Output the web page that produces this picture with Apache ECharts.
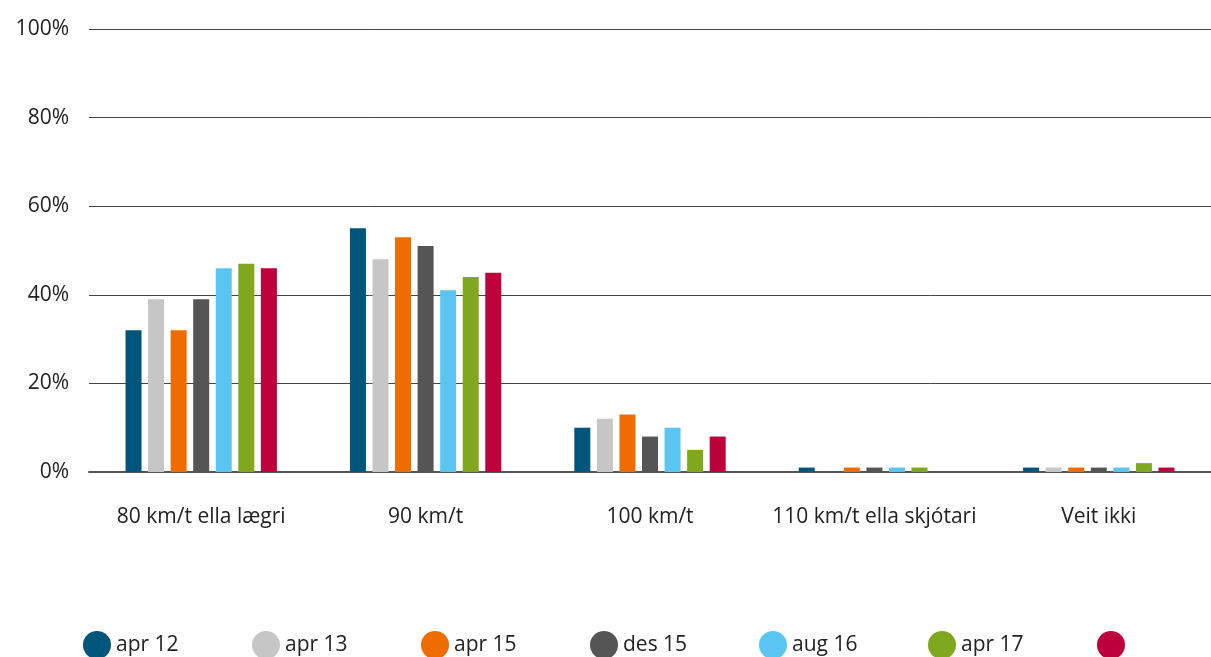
<!DOCTYPE html>
<html>
<head>
<meta charset="utf-8">
<script src="https://cdn.jsdelivr.net/npm/echarts@6/dist/echarts.min.js"></script>
<style>
  html, body { margin: 0; padding: 0; background: #fff; }
  #chart { width: 1211px; height: 657px; }
</style>
</head>
<body>
<div id="chart"></div>
<script>
// categories on the x axis
const categories = ['80 km/t ella lægri', '90 km/t', '100 km/t', '110 km/t ella skjótari', 'Veit ikki']
// survey rounds (last one has no label in the legend)
const rounds = ['apr 12', 'apr 13', 'apr 15', 'des 15', 'aug 16', 'apr 17', ' ']
const colors = ['#00567a', '#c6c6c6', '#ef6c00', '#555555', '#5bc5f2', '#7fa81e', '#be003c']

// share per round, in percent, one array per category order
const apr12 = [32, 55, 10, 1, 1]
const apr13 = [39, 48, 12, 0, 1]
const apr15 = [32, 53, 13, 1, 1]
const des15 = [39, 51, 8, 1, 1]
const aug16 = [46, 41, 10, 1, 1]
const apr17 = [47, 44, 5, 1, 2]
const last = [46, 45, 8, 0, 1]
const values = [apr12, apr13, apr15, des15, aug16, apr17, last]

const yTicks = [0, 20, 40, 60, 80, 100]

const font = 'Open Sans'

// one legend per round so the items sit at an even spacing
const legends = rounds.map((name, i) => ({
  left: 78 + 169 * i,
  top: 626,
  icon: 'circle',
  itemWidth: 28,
  itemHeight: 28,
  itemGap: 0,
  data: [name],
  textStyle: { fontSize: 21, color: '#222', fontFamily: font },
}))

const chart = echarts.init(document.getElementById('chart'))
chart.setOption({
  animation: false,
  textStyle: { fontFamily: font, color: '#222' },
  grid: { left: 89, width: 1130, top: 29, bottom: 185 },
  legend: legends,
  xAxis: {
    type: 'category',
    data: categories,
    axisTick: { show: false },
    axisLine: { lineStyle: { color: '#555', width: 2 } },
    axisLabel: { fontSize: 21, color: '#222', margin: 35, interval: 0 },
  },
  yAxis: {
    type: 'value',
    min: yTicks[0],
    max: yTicks[yTicks.length - 1],
    interval: 20,
    axisLine: { show: false },
    axisTick: { show: false },
    axisLabel: { fontSize: 21, color: '#222', margin: 20, formatter: '{value}%' },
    splitLine: { lineStyle: { color: '#444', width: 1 } },
  },
  series: rounds.map((name, i) => ({
    name: name,
    type: 'bar',
    data: values[i],
    barWidth: 16,
    barGap: '41%',
    itemStyle: { color: colors[i] },
  })),
})
</script>
</body>
</html>
